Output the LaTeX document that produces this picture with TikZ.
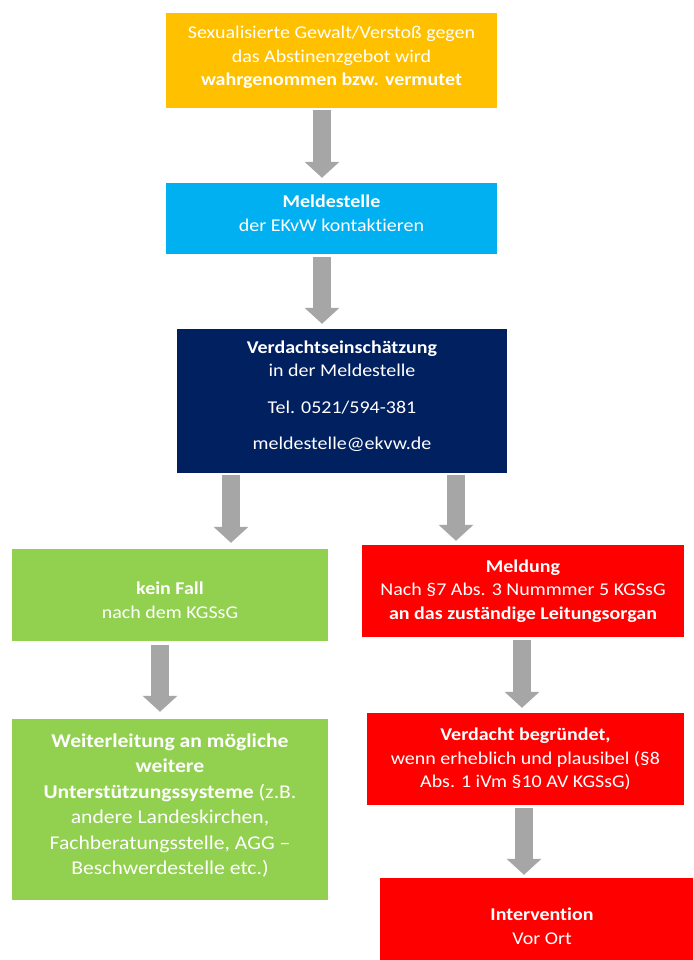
\documentclass[tikz,border=0pt]{standalone}
\usepackage{fontspec}
\setmainfont{Carlito}[FakeStretch=1.11,RawFeature=-liga]
\usetikzlibrary{arrows.meta}
\definecolor{cYellow}{HTML}{FFC000}
\definecolor{cCyan}{HTML}{00B0F0}
\definecolor{cNavy}{HTML}{002060}
\definecolor{cGreen}{HTML}{92D050}
\definecolor{cRed}{HTML}{FF0000}
\definecolor{cGray}{HTML}{A6A6A6}
\begin{document}
\begin{tikzpicture}[x=1pt,y=-1pt,
  box/.style={rectangle, inner sep=0pt},
  txt/.style={inner sep=0pt, align=center, text=white,
    font=\fontsize{18}{23.5}\selectfont},
  blockarrow/.style={draw=cGray, line width=18pt,
    -{Triangle[width=34pt,length=16pt]}}]
\useasboundingbox (0,0) rectangle (693,960);
\clip (0,0) rectangle (693,960);
\fill[white] (0,0) rectangle (693,960);

\node[box, fill=cYellow, minimum width=331pt, minimum height=95pt] (b1) at (331.5,60.5) {};
\node[txt] (t1) at ([yshift=3pt]b1.center)
  {Sexualisierte Gewalt/Verstoß gegen\\ das Abstinenzgebot wird\\ \textbf{wahrgenommen bzw. vermutet}};
\node[box, fill=cCyan, minimum width=331pt, minimum height=71pt] (b2) at (331.5,218.5) {};
\node[txt] (t2) at ([yshift=5pt]b2.center)
  {\textbf{Meldestelle}\\ der EKvW kontaktieren};
\node[box, fill=cNavy, minimum width=330pt, minimum height=144pt] (b3) at (342,401) {};
\node[txt] (t3) at ([yshift=5pt]b3.center)
  {\textbf{Verdachtseinschätzung}\\ in der Meldestelle\\[13pt] Tel. 0521/594-381\\[13pt] meldestelle@ekvw.de};
\node[box, fill=cGreen, minimum width=316pt, minimum height=92pt] (g1) at (170,595) {};
\node[txt] (tg1) at ([yshift=-5pt]g1.center)
  {\textbf{kein Fall}\\ nach dem KGSsG};
\node[box, fill=cRed, minimum width=322pt, minimum height=92pt] (r1) at (523,591) {};
\node[txt] (tr1) at (r1.center)
  {\textbf{Meldung}\\ Nach §7 Abs. 3 Nummmer 5 KGSsG\\ \textbf{an das zuständige Leitungsorgan}};
\node[box, fill=cGreen, minimum width=316pt, minimum height=181pt] (g2) at (170,809.5) {};
\node[txt, font=\fontsize{19.5}{25.4}\selectfont] (tg2) at ([yshift=4pt]g2.center)
  {\textbf{Weiterleitung an mögliche}\\ \textbf{weitere}\\ \textbf{Unterstützungssysteme} (z.B.\\ andere Landeskirchen,\\ Fachberatungsstelle, AGG –\\ Beschwerdestelle etc.)};
\node[box, fill=cRed, minimum width=317pt, minimum height=92pt] (r2) at (525.5,759) {};
\node[txt] (tr2) at (r2.center)
  {\textbf{Verdacht begründet,}\\ wenn erheblich und plausibel (§8\\ Abs. 1 iVm §10 AV KGSsG)};
\node[box, fill=cRed, minimum width=324pt, minimum height=96pt] (r3) at (542,926) {};
\node[txt] (tr3) at (r3.center)
  {\textbf{Intervention}\\ Vor Ort};

\draw[blockarrow] ([xshift=-9.5pt,yshift=-2pt]b1.south) -- ([xshift=-9.5pt,yshift=5pt]b2.north);
\draw[blockarrow] ([xshift=-9.5pt,yshift=-3pt]b2.south) -- ([xshift=-20pt,yshift=5pt]b3.north);
\draw[blockarrow] ([xshift=-111pt,yshift=-2pt]b3.south) -- ([xshift=61pt,yshift=6pt]g1.north);
\draw[blockarrow] ([xshift=114pt,yshift=-2pt]b3.south) -- ([xshift=-67pt,yshift=4pt]r1.north);
\draw[blockarrow] ([xshift=-10pt,yshift=-4pt]g1.south) -- ([xshift=-10pt,yshift=7pt]g2.north);
\draw[blockarrow] ([xshift=-1pt,yshift=-3pt]r1.south) -- ([xshift=-3.5pt,yshift=5pt]r2.north);
\draw[blockarrow] ([xshift=-1.5pt,yshift=-3pt]r2.south) -- ([xshift=-18pt,yshift=3pt]r3.north);
\end{tikzpicture}
\end{document}
